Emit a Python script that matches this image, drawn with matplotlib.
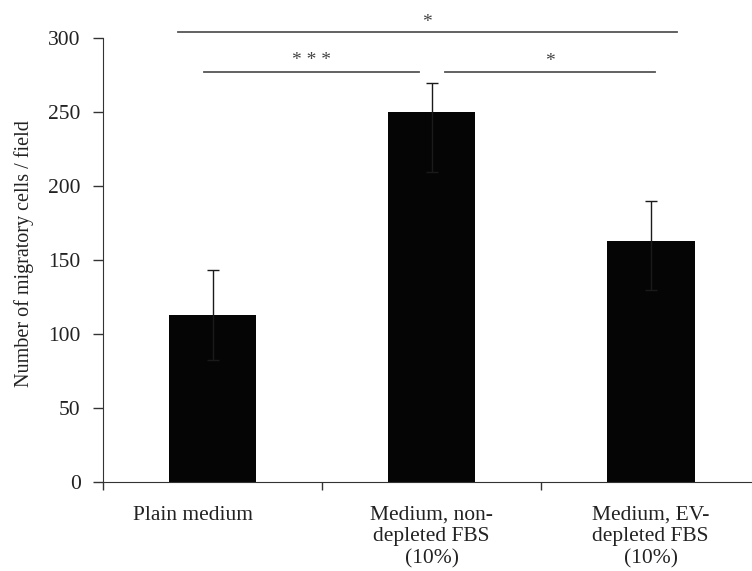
import numpy as np
import matplotlib
matplotlib.use("Agg")
import matplotlib.pyplot as plt
from matplotlib.transforms import ScaledTranslation

# data
categories = ["Plain medium", "Medium, non-\ndepleted FBS\n(10%)", "Medium, EV-\ndepleted FBS\n(10%)"]
means = [112.5, 249.5, 162.5]
err_low = [30, 40, 33]
err_high = [30.5, 20, 27]

# significance brackets: (x start, x end, y, label, label y)
sig_pairs = [(-0.16, 2.12, 304, "*", 304.5),
             (-0.04, 0.94, 277, "* * *", 279),
             (1.06, 2.02, 277, "*", 278.5)]

plt.rcParams['font.family'] = ['Liberation Serif', 'DejaVu Serif']
plt.rcParams['font.size'] = 15.5

fig = plt.figure(figsize=(7.52, 5.71), dpi=100)
ax = fig.add_axes([0.137, 0.156, 0.874, 0.778])

x = np.arange(len(categories))
ax.bar(x, means, width=0.4, color='#050505', zorder=2)
ax.errorbar(x, means, yerr=[err_low, err_high], fmt='none', ecolor='#1a1a1a',
            elinewidth=1.0, capsize=4, capthick=1.0, zorder=3)

ax.set_xlim(-0.5, 2.5)
ax.set_ylim(0, 300)
ax.set_yticks(np.arange(0, 301, 50))
ax.tick_params(axis='y', direction='out', length=7, width=1, pad=9,
               labelsize=15.5, color='#333333', labelcolor='#222222')

# category labels at centres, tick marks at boundaries
ax.set_xticks(x)
ax.set_xticklabels(categories, fontsize=15.5, linespacing=1.2, va='top', color='#222222')
ax.tick_params(axis='x', which='major', length=0, pad=17)
ax.set_xticks([-0.5, 0.5, 1.5], minor=True)
ax.tick_params(axis='x', which='minor', direction='out', length=6, width=1, color='#333333')
first = ax.get_xticklabels()[0]
first.set_transform(first.get_transform() + ScaledTranslation(-0.2, 0, fig.dpi_scale_trans))

for side in ['top', 'right']:
    ax.spines[side].set_visible(False)
for side in ['left', 'bottom']:
    ax.spines[side].set_color('#333333')

ax.set_ylabel("Number of migratory cells / field", fontsize=14.5, color='#222222')
ax.yaxis.set_label_coords(-0.105, 0.514)

for x0, x1, y, lab, ly in sig_pairs:
    ax.plot([x0, x1], [y, y], color='#555555', lw=1.3, clip_on=False)
    ax.text((x0 + x1) / 2, ly, lab, ha='center', va='bottom', fontsize=14,
            color='#444444', clip_on=False)

fig.savefig("out.png", dpi=100)
